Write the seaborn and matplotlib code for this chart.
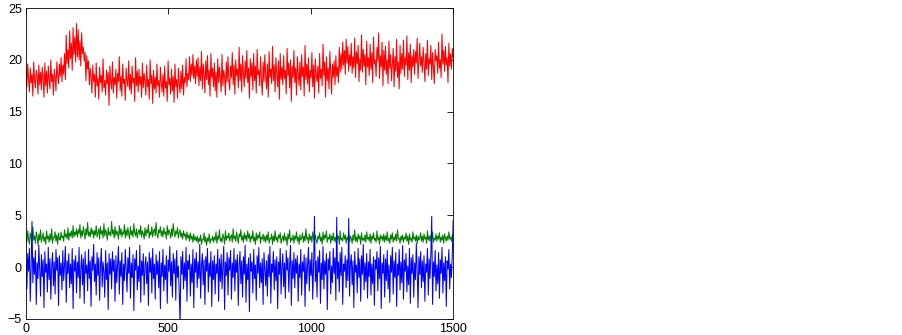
import numpy as np
import pandas as pd
import matplotlib
matplotlib.use("Agg")
import matplotlib.pyplot as plt
import seaborn as sns

# valores leidos a ojo de la grafica, una muestra cada 3 puntos
# (cada renglon cubre 60 unidades del eje x)

red_vals = [
    18.9, 17.4, 19.6, 18.1, 16.9, 19.2, 17.8, 18.6, 16.5, 19.8, 18.0, 17.3, 19.0, 18.4, 16.7, 19.5, 17.6, 18.8, 17.1, 19.3,
    18.2, 16.4, 19.7, 17.5, 18.9, 16.8, 19.4, 18.1, 17.2, 20.0, 17.9, 18.6, 16.6, 19.1, 18.3, 17.0, 19.8, 18.5, 17.7, 19.6,
    18.4, 20.2, 17.9, 19.5, 18.6, 20.6, 18.1, 22.4, 19.6, 21.0, 19.2, 22.8, 20.1, 21.6, 19.0, 23.1, 20.5, 22.2, 19.8, 23.5,
    20.3, 22.9, 20.0, 21.8, 19.4, 22.6, 20.6, 21.2, 19.9, 20.7, 18.0, 20.4, 19.1, 19.9, 17.6, 19.2, 18.3, 16.8, 19.5, 17.9,
    18.6, 16.4, 19.7, 17.5, 18.2, 16.2, 19.3, 17.8, 18.5, 16.9, 20.1, 17.3, 18.0, 16.6, 19.0, 17.7, 18.8, 15.6, 19.4, 17.9,
    17.2, 19.8, 16.8, 18.3, 17.6, 19.1, 16.3, 18.7, 17.9, 20.3, 17.0, 18.4, 16.5, 19.6, 17.7, 18.1, 16.1, 19.2, 18.0, 17.4,
    19.9, 17.1, 18.6, 16.7, 19.4, 17.8, 18.2, 16.0, 20.2, 17.5, 18.9, 16.9, 19.1, 17.6, 18.4, 16.4, 19.7, 17.3, 18.7, 17.9,
    16.6, 19.5, 17.4, 18.1, 16.2, 20.0, 17.7, 18.5, 15.8, 19.0, 17.2, 18.3, 16.8, 19.6, 17.5, 18.0, 16.4, 19.3, 17.9, 16.9,
    18.6, 16.5, 19.4, 17.3, 17.9, 16.0, 19.9, 17.6, 18.2, 16.7, 19.1, 17.0, 18.4, 15.9, 19.6, 17.4, 18.1, 16.3, 19.2, 17.7,
    16.8, 18.9, 17.2, 19.5, 16.6, 18.3, 17.8, 20.1, 17.4, 18.7, 18.1, 20.3, 17.9, 19.6, 18.5, 20.5, 18.2, 19.4, 17.7, 20.0,
    18.4, 20.2, 17.5, 19.3, 18.0, 20.8, 17.2, 19.6, 18.6, 16.8, 19.9, 18.1, 20.4, 17.6, 19.0, 16.5, 20.6, 18.3, 19.2, 17.4,
    19.7, 17.0, 18.8, 16.4, 20.1, 17.8, 19.3, 18.2, 16.9, 20.5, 17.5, 19.0, 18.4, 16.6, 19.8, 17.9, 20.3, 18.0, 17.1, 19.4,
    18.3, 20.7, 17.6, 19.5, 16.7, 20.0, 18.5, 19.1, 17.3, 21.2, 18.0, 19.6, 16.9, 20.4, 18.7, 17.4, 19.9, 18.2, 20.9, 17.8,
    19.2, 16.3, 20.1, 18.4, 19.7, 17.1, 20.6, 18.0, 19.4, 16.8, 21.0, 18.6, 19.0, 17.5, 20.3, 18.1, 16.6, 19.8, 17.9, 20.5,
    18.5, 17.2, 19.6, 16.4, 20.8, 18.3, 19.1, 17.7, 21.3, 18.0, 19.5, 16.9, 20.2, 18.7, 17.4, 19.9, 16.2, 20.6, 18.1, 19.3,
    17.6, 20.4, 18.2, 19.0, 16.7, 21.1, 18.5, 19.7, 17.3, 20.0, 16.0, 19.4, 18.3, 20.9, 17.8, 19.2, 16.6, 20.3, 18.6, 17.5,
    19.8, 17.1, 20.5, 18.4, 19.3, 16.5, 21.4, 18.1, 19.6, 17.7, 20.2, 16.9, 19.0, 18.3, 20.7, 17.4, 19.5, 16.3, 20.1, 18.6,
    17.9, 19.4, 16.8, 20.6, 18.2, 19.1, 17.5, 21.5, 18.5, 19.8, 16.4, 20.3, 18.0, 19.2, 17.2, 20.8, 18.7, 16.7, 19.6, 18.3,
    19.9, 17.6, 20.4, 18.4, 19.3, 17.8, 21.2, 18.8, 20.6, 19.1, 21.7, 19.5, 20.9, 18.6, 22.0, 19.7, 21.3, 18.9, 20.5, 19.4,
    21.6, 18.7, 20.3, 19.2, 22.1, 18.3, 20.8, 19.6, 21.4, 17.9, 20.1, 19.0, 22.4, 18.8, 21.0, 19.4, 20.5, 17.6, 21.8, 19.3,
    20.2, 18.5, 21.5, 19.1, 20.7, 17.8, 22.2, 19.6, 20.0, 18.4, 21.2, 19.9, 22.6, 18.2, 20.4, 19.3, 21.7, 17.5, 20.9, 19.0,
    21.3, 18.6, 20.0, 17.7, 21.8, 19.2, 20.5, 18.0, 19.6, 21.1, 17.4, 20.3, 18.9, 22.0, 18.3, 19.8, 17.2, 21.4, 18.7, 20.6,
    19.1, 21.9, 18.4, 20.2, 19.5, 22.3, 18.1, 20.7, 19.0, 21.5, 17.8, 20.4, 19.3, 21.0, 18.6, 20.8, 19.7, 22.1, 18.2, 20.0,
    21.6, 19.4, 20.3, 18.8, 21.2, 19.8, 17.9, 20.6, 19.1, 21.9, 18.5, 20.1, 19.6, 21.4, 18.1, 20.7, 19.3, 17.7, 21.0, 19.9,
    20.4, 18.7, 21.7, 19.2, 20.0, 18.3, 22.5, 19.6, 20.9, 18.9, 21.3, 19.5, 20.2, 17.8, 21.6, 19.4, 20.6, 19.1, 21.1, 20.2,
]

green_vals = [
    3.1, 2.4, 3.5, 2.7, 2.2, 3.3, 2.8, 2.5, 3.9, 2.6, 3.0, 2.3, 3.4, 2.9, 2.1, 3.2, 2.6, 3.6, 2.4, 2.8,
    3.3, 2.5, 2.9, 2.2, 3.5, 2.7, 3.0, 2.4, 3.2, 2.6, 3.7, 2.3, 2.9, 2.8, 3.4, 2.5, 3.1, 2.2, 3.3, 2.7,
    2.6, 3.4, 2.8, 3.0, 2.5, 3.6, 2.9, 3.2, 2.7, 3.8, 2.6, 3.3, 3.0, 3.5, 2.8, 4.0, 2.9, 3.4, 3.1, 3.7,
    2.9, 3.6, 3.2, 4.1, 2.8, 3.5, 3.0, 3.9, 3.3, 2.7, 3.7, 3.1, 4.3, 3.0, 3.4, 2.9, 3.8, 3.2, 3.6, 2.8,
    3.5, 3.1, 4.0, 2.9, 3.3, 3.7, 2.7, 3.9, 3.2, 3.5, 2.8, 4.2, 3.0, 3.6, 3.3, 2.6, 3.8, 3.1, 3.4, 3.0,
    4.4, 3.2, 3.6, 2.8, 3.9, 3.0, 3.5, 3.3, 2.7, 4.0, 3.1, 3.7, 2.9, 3.4, 3.2, 4.1, 2.8, 3.6, 3.0, 3.8,
    3.2, 2.7, 3.9, 3.1, 3.5, 2.9, 4.2, 3.3, 3.0, 3.7, 2.8, 3.4, 3.6, 3.1, 4.0, 2.9, 3.5, 3.2, 2.7, 3.8,
    3.0, 3.6, 3.3, 4.1, 2.8, 3.4, 3.1, 3.9, 2.9, 3.5, 3.7, 3.0, 4.3, 3.2, 2.8, 3.6, 3.3, 3.9, 3.0, 3.5,
    2.9, 3.8, 3.2, 3.4, 2.7, 4.0, 3.1, 3.6, 3.3, 2.8, 3.7, 3.0, 4.2, 3.4, 2.9, 3.5, 3.2, 3.8, 2.8, 3.3,
    3.6, 2.9, 3.3, 2.7, 3.5, 3.0, 3.2, 2.6, 3.4, 2.8, 3.1, 2.5, 3.3, 2.7, 3.0, 2.4, 3.2, 2.6, 2.9, 2.5,
    3.0, 2.3, 2.8, 2.5, 3.1, 2.2, 2.7, 2.6, 3.3, 2.4, 2.9, 2.1, 2.8, 2.5, 3.2, 2.3, 2.7, 2.6, 3.0, 2.4,
    2.9, 2.6, 3.4, 2.3, 3.0, 2.7, 3.6, 2.5, 2.8, 2.4, 3.2, 2.9, 2.2, 3.5, 2.6, 3.0, 2.8, 3.3, 2.5, 2.9,
    3.1, 2.4, 3.7, 2.7, 3.0, 2.5, 3.4, 2.8, 2.3, 3.2, 2.9, 3.6, 2.6, 3.0, 2.4, 3.3, 2.7, 3.1, 2.5, 3.5,
    2.8, 3.2, 2.4, 3.0, 2.7, 3.5, 2.5, 2.9, 2.2, 3.3, 2.6, 3.1, 2.8, 3.4, 2.3, 2.9, 2.7, 3.2, 2.5, 3.0,
    2.4, 3.1, 2.6, 3.4, 2.3, 2.8, 2.7, 3.2, 2.2, 3.0, 2.5, 3.5, 2.6, 2.9, 2.4, 3.1, 2.8, 3.3, 2.3, 2.7,
    3.0, 2.5, 3.3, 2.6, 2.9, 2.1, 3.2, 2.7, 3.6, 2.4, 2.8, 2.6, 3.1, 2.3, 3.0, 2.7, 3.4, 2.5, 2.9, 2.2,
    3.1, 2.6, 2.8, 3.3, 2.4, 3.0, 2.5, 3.7, 2.7, 2.9, 2.3, 3.2, 2.6, 3.0, 2.4, 3.4, 2.8, 2.5, 3.1, 2.6,
    2.3, 3.0, 2.7, 3.3, 2.5, 2.9, 2.2, 3.4, 2.6, 3.1, 2.8, 3.5, 2.4, 2.9, 2.7, 3.2, 2.3, 3.0, 2.6, 3.3,
    2.5, 2.9, 2.4, 3.2, 2.7, 3.0, 2.2, 3.5, 2.6, 2.8, 2.5, 3.3, 2.7, 3.1, 2.3, 2.9, 2.6, 3.4, 2.4, 3.0,
    2.8, 2.3, 3.1, 2.6, 3.6, 2.5, 2.9, 2.4, 3.2, 2.7, 3.0, 2.2, 3.3, 2.6, 2.8, 2.5, 3.1, 2.4, 3.4, 2.7,
    2.9, 2.5, 3.2, 2.3, 3.0, 2.7, 3.3, 2.6, 2.8, 2.4, 3.5, 2.6, 2.9, 2.2, 3.1, 2.7, 3.0, 2.5, 3.2, 2.4,
    3.0, 2.6, 3.4, 2.5, 2.8, 2.3, 3.1, 2.7, 3.3, 2.4, 2.9, 2.6, 3.2, 2.5, 3.6, 2.7, 2.8, 2.3, 3.0, 2.6,
    3.1, 2.4, 2.9, 2.7, 3.3, 2.5, 3.0, 2.2, 3.2, 2.6, 2.8, 2.4, 3.4, 2.7, 2.9, 2.5, 3.1, 2.3, 3.0, 2.6,
    2.8, 3.3, 2.5, 3.0, 2.4, 3.2, 2.7, 2.9, 2.3, 3.5, 2.6, 3.0, 2.5, 3.1, 2.7, 3.4, 2.4, 2.8, 2.6, 3.2,
    2.5, 3.0, 2.7, 3.3, 2.4, 2.9, 2.6, 3.1, 2.3, 3.2, 2.8, 2.5, 3.0, 2.6, 3.4, 2.7, 2.9, 2.5, 3.1, 2.8,
]

blue_vals = [
    0.6, -2.1, 1.3, -0.4, 1.8, -3.3, 0.2, 4.4, -1.5, 0.9, -0.7, 1.6, -3.6, 0.4, -1.1, 2.1, -0.2, -2.8, 1.2, -0.9,
    0.7, -3.9, 1.5, -0.5, 0.3, -2.4, 1.9, -1.2, 0.8, -3.1, 0.1, 1.4, -1.8, 0.5, -2.6, 1.7, -0.3, 0.9, -3.7, 1.1,
    -0.8, 0.4, -2.2, 1.6, -1.3, 0.2, 2.0, -3.4, 0.6, -0.6, 1.3, -2.0, 0.3, -1.6, 1.8, -4.0, 0.7, -0.4, 1.1, -2.5,
    0.5, -1.0, 1.9, -3.0, -0.2, 1.2, -1.7, 0.8, -3.5, 1.5, -0.6, 0.2, -2.3, 1.7, -1.1, 0.6, -3.8, 1.0, -0.3, 2.2,
    -1.4, 0.3, -2.7, 1.4, -0.8, 0.9, -3.2, 0.1, 1.8, -1.9, 0.5, -0.5, -2.9, 1.6, -1.2, 0.4, -4.1, 1.3, -0.7, 0.8,
    -2.1, 1.5, -0.4, 0.7, -3.3, 1.1, -1.5, 0.2, 2.0, -2.6, 0.6, -0.9, 1.4, -3.6, 0.3, -1.3, 1.7, -0.1, -2.4, 0.9,
    -0.6, 1.9, -3.0, 0.4, -1.0, 1.2, -4.2, 0.8, -0.3, 1.6, -2.2, 0.1, -1.4, 2.1, -3.4, 0.6, -0.8, 1.3, -2.7, 0.2,
    1.0, -1.6, 0.5, -3.7, 1.4, -0.5, 0.9, -2.5, 1.8, -1.1, 0.3, -3.1, 1.2, -0.7, 0.6, -2.0, 1.5, -4.0, 0.4, -0.9,
    1.7, -2.3, 0.2, -1.2, 1.1, -3.5, 0.7, -0.4, 2.0, -1.8, 0.5, -2.9, 1.3, -0.6, 0.8, -3.2, 1.6, -1.0, 0.1, -2.4,
    -5.6, 1.0, -0.7, 1.5, -2.1, 0.4, -1.3, 1.9, -3.3, 0.6, -0.2, 1.2, -2.8, 0.3, -1.5, 1.7, -3.9, 0.8, -0.5, 1.4,
    -2.0, 0.5, -1.1, 2.2, -3.0, 0.2, 1.3, -1.7, 0.7, -3.6, 1.0, -0.4, 1.8, -2.4, 0.4, -0.9, 1.5, -3.8, 0.6, -1.2,
    1.1, -2.6, 0.3, -0.6, 1.7, -3.3, 0.8, -1.4, 1.2, -2.1, 0.1, 2.0, -4.1, 0.5, -0.8, 1.4, -2.7, 0.9, -0.3, 1.6,
    -3.1, 0.4, -1.0, 1.8, -2.3, 0.7, -0.5, 1.2, -3.7, 0.2, 1.5, -1.6, 0.6, -2.9, 1.0, -0.7, 2.1, -3.4, 0.3, -1.2,
    0.9, -4.3, 1.3, -0.4, 0.5, -2.5, 1.7, -1.1, 0.2, -3.2, 1.1, -0.6, 1.9, -2.0, 0.4, -1.5, 0.8, -3.6, 1.4, -0.2,
    -1.8, 0.6, -2.8, 1.2, -0.9, 2.0, -3.5, 0.3, -0.5, 1.5, -2.2, 0.7, -1.3, 1.0, -4.0, 0.5, -0.7, 1.8, -2.6, 0.1,
    1.3, -1.9, 0.4, -3.0, 1.6, -0.3, 0.9, -2.4, 0.2, 2.1, -3.7, 0.6, -1.1, 1.4, -2.0, 0.8, -0.6, 1.1, -3.3, 0.3,
    -1.0, 1.7, -2.7, 0.5, -0.4, 1.2, -3.8, 0.9, -1.6, 0.3, 1.9, -2.3, 0.7, -0.8, 1.4, -3.1, 0.2, 4.9, -1.4, 0.6,
    -2.9, 1.0, -0.5, 1.6, -3.5, 0.4, -1.2, 2.0, -2.1, 0.6, -0.7, 1.3, -4.1, 0.8, -0.3, 1.5, -2.6, 0.1, -1.5, 1.8,
    -0.6, 0.9, -3.2, 4.8, -1.1, 0.5, -2.4, 1.4, -0.8, 1.9, -3.6, 0.3, -0.4, 1.1, -2.0, 0.7, -1.3, 4.7, -2.8, 0.4,
    1.2, -1.7, 0.6, -3.9, 1.5, -0.5, 0.2, -2.5, 1.8, -1.0, 0.8, -3.3, 1.1, -0.7, 2.2, -2.2, 0.4, -1.4, 1.3, -3.0,
    0.5, -0.9, 1.7, -2.7, 0.3, -1.6, 1.0, -3.7, 0.7, -0.2, 1.5, -2.3, 0.9, -1.1, 2.0, -4.0, 0.4, -0.6, 1.2, -2.9,
    0.8, -1.3, 1.6, -2.1, 0.2, -3.4, 1.1, -0.5, 1.9, -2.6, 0.6, -1.0, 1.4, -3.8, 0.3, -0.8, 1.7, -2.2, 0.5, -1.5,
    2.1, -3.1, 0.7, -0.4, 1.3, -2.4, 0.1, -1.7, 1.8, -3.5, 0.9, -0.6, 1.2, -2.9, 0.4, -1.2, 2.3, -0.3, -3.9, 1.0,
    -0.7, 1.5, -2.0, 0.6, -1.4, 1.1, -3.3, 0.3, -0.5, 1.8, -2.7, 0.8, -1.1, 1.3, 4.9, -3.6, 0.5, -0.9, 1.6, -2.3,
    0.2, -1.6, 1.4, -3.0, 0.7, -0.6, 1.9, -2.5, 0.4, -1.3, 1.0, -3.8, 0.6, -0.2, 1.7, -2.1, 0.3, -1.0, 1.2, 4.5,
]

x_ticks = [0, 500, 1000, 1500]
y_ticks = [-5, 0, 5, 10, 15, 20, 25]

sns.set_style("white")
plt.rcParams['font.family'] = ['Liberation Sans', 'DejaVu Sans']

fig = plt.figure(figsize=(9.03, 3.35), dpi=100)
ax = fig.add_axes([0.0288, 0.048, 0.473, 0.928])

# cada serie en su propio dataframe, eje x de 0 a 1500
for vals, col in [(red_vals, '#ff0000'), (green_vals, '#007f00'), (blue_vals, '#0000ff')]:
    d = pd.DataFrame({'x': np.linspace(0, 1500, len(vals)), 'y': vals})
    sns.lineplot(data=d, x='x', y='y', color=col, linewidth=0.75, ax=ax, estimator=None, sort=False)

ax.set_xlim(0, 1500)
ax.set_ylim(-5, 25)
ax.set_xticks(x_ticks)
ax.set_yticks(y_ticks)
ax.set_xlabel('')
ax.set_ylabel('')
ax.tick_params(direction='in', top=True, right=True, length=4, width=0.6,
               labelsize=9, pad=3, color='black', labelcolor='black')
for s in ax.spines.values():
    s.set_color('black')
    s.set_linewidth(0.6)

fig.savefig('out.png', dpi=100, facecolor='white')
